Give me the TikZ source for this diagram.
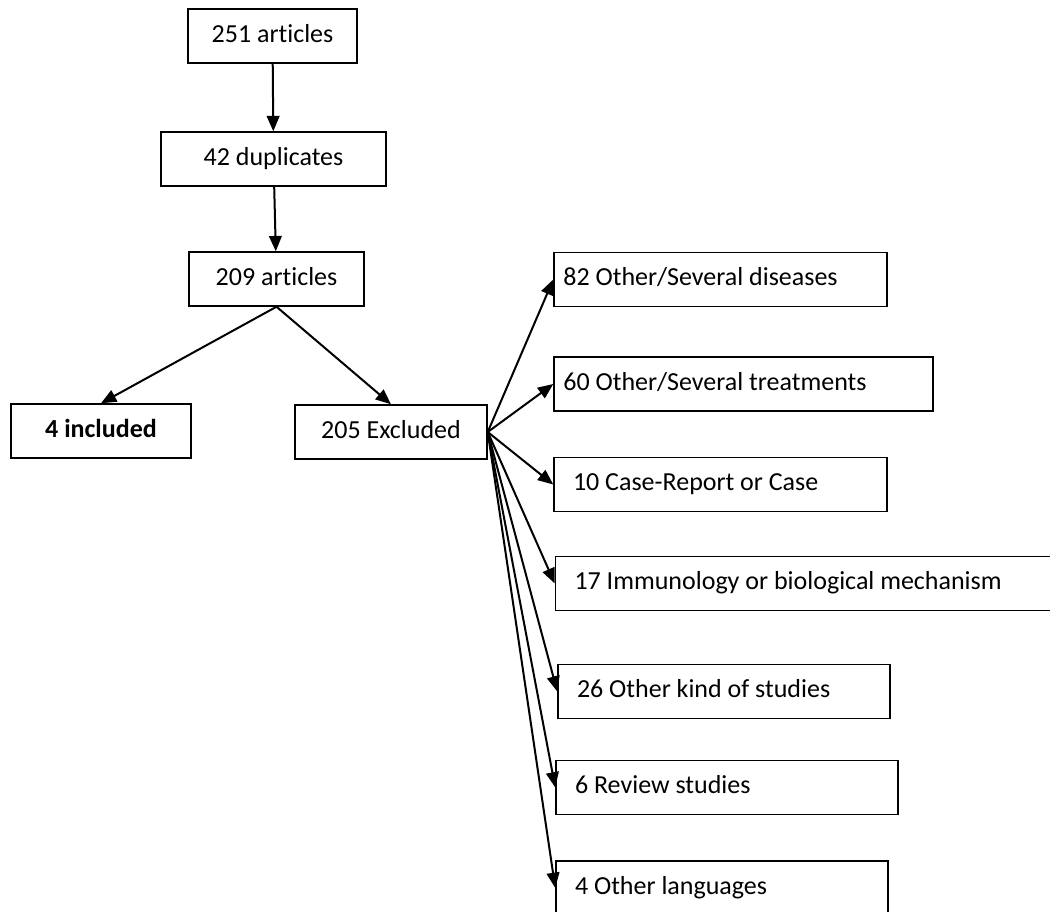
\documentclass[tikz,border=0pt]{standalone}
\usepackage{fontspec}
\setmainfont{Carlito}[Ligatures=NoCommon]
\usetikzlibrary{arrows.meta, positioning}

\begin{document}
\begin{tikzpicture}[x=0.75pt, y=-0.75pt,
  every node/.style={font=\fontsize{19.5pt}{23pt}\selectfont},
  box/.style={draw, line width=1.1pt, minimum height=40.5pt, inner sep=0pt,
    text height=13.5pt, text depth=4pt},
  cbox/.style={box, minimum width=#1},
  lbox/.style 2 args={box, inner xsep=#2, text width=#1, align=flush left},
  arr/.style={-{Triangle[length=11.5pt,width=9.5pt]}, line width=1.5pt}]
  \useasboundingbox (0,0) rectangle (1050,911);
  \clip (0,0) rectangle (1050,911);
  % ---------- MAIN COLUMN ----------
  \node[cbox=126.75pt] (art1) at (272.5,36) {251 articles};
  \node[cbox=168.75pt] (dup) at (273.5,159) {42 duplicates};
  \node[cbox=131.25pt] (art2) at (276.5,279) {209 articles};
  \draw[arr] (art1) -- (dup);
  \draw[arr] (dup) -- (art2);
  % ---------- SPLIT ----------
  \node[cbox=135pt] (inc) at (101,431) {\textbf{4 included}};
  \node[cbox=144pt] (exc) at (391,432) {205 Excluded};
  \draw[arr] (art2.south) -- (inc.north);
  \draw[arr] (art2.south) -- (exc.north);
  % ---------- REASONS ----------
  \node[lbox={235.75pt}{7pt}] (r1) at (720.5,279.5) {82 Other/Several diseases};
  \node[lbox={270.25pt}{7pt}] (r2) at (743.5,384) {60 Other/Several treatments};
  \node[lbox={221.25pt}{14.25pt}] (r3) at (720.5,484.5) {10 Case-Report or Case};
  \node[lbox={346.5pt}{14.25pt}] (r4) at (805.5,583.5) {17 Immunology or biological mechanism};
  \node[lbox={220.5pt}{14.25pt}] (r5) at (724,691.5) {26 Other kind of studies};
  \node[lbox={228pt}{14.25pt}] (r6) at (727,787.5) {6 Review studies};
  \node[lbox={220.5pt}{14.25pt}] (r7) at (722,888) {4 Other languages};
  \foreach \r in {r1,r2,r3,r4,r5,r6,r7}
    \draw[arr] (exc.east) -- (\r.west);
\end{tikzpicture}
\end{document}
